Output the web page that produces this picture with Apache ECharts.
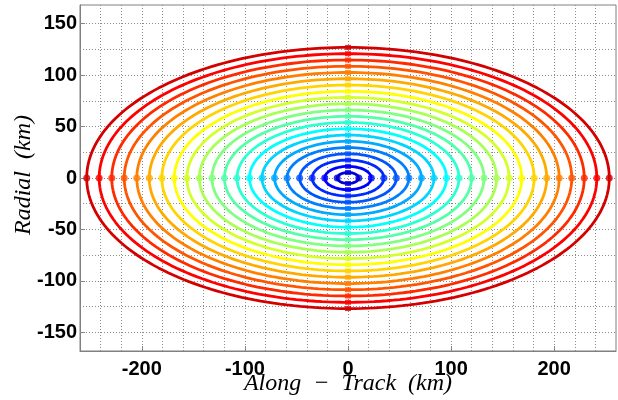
<!DOCTYPE html>
<html>
<head>
<meta charset="utf-8">
<script src="https://cdn.jsdelivr.net/npm/echarts@6/dist/echarts.min.js"></script>
<style>
  html, body { margin: 0; padding: 0; background: #fff; }
  #chart { width: 618px; height: 400px; }
</style>
</head>
<body>
<div id="chart"></div>
<script>
// Relative-motion ellipses: along-track and radial semi-axes (km)
const alongTrackAmp = [10.5, 22.6, 34.8, 46.9, 59.1, 71.3, 83.4, 95.6, 107.7, 119.9, 132.0,
                       144.2, 156.3, 168.5, 180.6, 192.8, 204.9, 217.1, 229.2, 241.4, 253.5];
const radialAmp     = [5.3, 11.3, 17.4, 23.5, 29.6, 35.6, 41.7, 47.8, 53.9, 59.9, 66.0,
                       72.1, 78.2, 84.2, 90.3, 96.4, 102.5, 108.5, 114.6, 120.7, 126.8];

// Axis ticks and dotted grid positions (km)
const xTicks = [-200, -100, 0, 100, 200];
const yTicks = [-150, -100, -50, 0, 50, 100, 150];
const xGridLines = [-240, -220, -200, -180, -160, -140, -120, -100, -80, -60, -40, -20, 0,
                    20, 40, 60, 80, 100, 120, 140, 160, 180, 200, 220, 240];
const yGridLines = [-150, -125, -100, -75, -50, -25, 0, 25, 50, 75, 100, 125, 150];

// Jet colour map, one colour per ellipse (inner to outer)
const jetColors = ['#0000d4', '#0000ff', '#002bff', '#0055ff', '#0080ff', '#00aaff', '#00d4ff',
                   '#00ffff', '#2bffd4', '#55ffaa', '#80ff80', '#aaff55', '#d4ff2b', '#ffff00',
                   '#ffd400', '#ffaa00', '#ff8000', '#ff5500', '#ff2b00', '#ff0000', '#d40000'];

const X_MIN = -260, X_MAX = 260, Y_MIN = -168, Y_MAX = 168;

// Sample an ellipse outline from its two semi-axes
function ellipsePath(a, b) {
  const pts = [];
  const n = 240;
  for (let i = 0; i <= n; i++) {
    const t = 2 * Math.PI * i / n;
    pts.push([a * Math.cos(t), b * Math.sin(t)]);
  }
  return pts;
}

const gridStyle = { color: '#8c8c8c', width: 1, type: [1, 2] };

const series = [{
  type: 'line',
  data: [],
  silent: true,
  markLine: {
    silent: true,
    symbol: ['none', 'none'],
    animation: false,
    z: 1,
    label: { show: false },
    lineStyle: gridStyle,
    emphasis: { disabled: true },
    data: xGridLines.map(v => ({ xAxis: v })).concat(yGridLines.map(v => ({ yAxis: v })))
  }
}];

alongTrackAmp.forEach((a, i) => {
  const b = radialAmp[i];
  const color = jetColors[i];
  series.push({
    type: 'line',
    data: ellipsePath(a, b),
    showSymbol: false,
    smooth: false,
    silent: true,
    z: 3,
    lineStyle: { color: color, width: 2.8 },
    animation: false
  });
  series.push({
    type: 'scatter',
    data: [[-a, 0], [a, 0]],
    symbol: 'circle',
    symbolSize: 7,
    silent: true,
    z: 4,
    itemStyle: { color: color },
    animation: false
  });
  series.push({
    type: 'scatter',
    data: [[0, b], [0, -b]],
    symbol: 'rect',
    symbolSize: [6, 5],
    silent: true,
    z: 4,
    itemStyle: { color: color },
    animation: false
  });
});

const chart = echarts.init(document.getElementById('chart'), null, { renderer: 'canvas' });
const tickLabelStyle = {
  color: '#000',
  fontFamily: 'Liberation Sans, Arial, sans-serif',
  fontWeight: 'bold',
  fontSize: 20
};
const titleStyle = {
  fontFamily: 'Liberation Serif, Times New Roman, serif',
  fontStyle: 'italic', fontSize: 24, fill: '#000',
  align: 'center', verticalAlign: 'middle'
};

chart.setOption({
  animation: false,
  backgroundColor: '#fff',
  grid: {
    left: 80, top: 5, width: 536, height: 346,
    show: true, borderColor: '#808080', borderWidth: 1, backgroundColor: '#fff'
  },
  xAxis: {
    type: 'value',
    min: X_MIN, max: X_MAX,
    minInterval: 100, maxInterval: 100,
    axisLine: { show: true, onZero: false, lineStyle: { color: '#808080' } },
    axisTick: { show: true, inside: true, length: 5, lineStyle: { color: '#808080' } },
    splitLine: { show: false },
    axisLabel: Object.assign({
      margin: 8,
      showMinLabel: false, showMaxLabel: false,
      formatter: v => (xTicks.indexOf(v) >= 0 ? String(v) : '')
    }, tickLabelStyle)
  },
  yAxis: {
    type: 'value',
    min: Y_MIN, max: Y_MAX,
    minInterval: 50, maxInterval: 50,
    axisLine: { show: true, onZero: false, lineStyle: { color: '#808080' } },
    axisTick: { show: true, inside: true, length: 5, lineStyle: { color: '#808080' } },
    splitLine: { show: false },
    axisLabel: Object.assign({
      margin: 3,
      showMinLabel: false, showMaxLabel: false,
      formatter: v => (yTicks.indexOf(v) >= 0 ? String(v) : '')
    }, tickLabelStyle)
  },
  graphic: [
    {
      type: 'text',
      x: 348, y: 384,
      style: Object.assign({ text: 'Along\u2002\u2212\u2002Track\u2002(km)' }, titleStyle)
    },
    {
      type: 'text',
      rotation: Math.PI / 2,
      x: 24, y: 175,
      style: Object.assign({ text: 'Radial\u2002(km)' }, titleStyle)
    }
  ],
  series: series
});
</script>
</body>
</html>
